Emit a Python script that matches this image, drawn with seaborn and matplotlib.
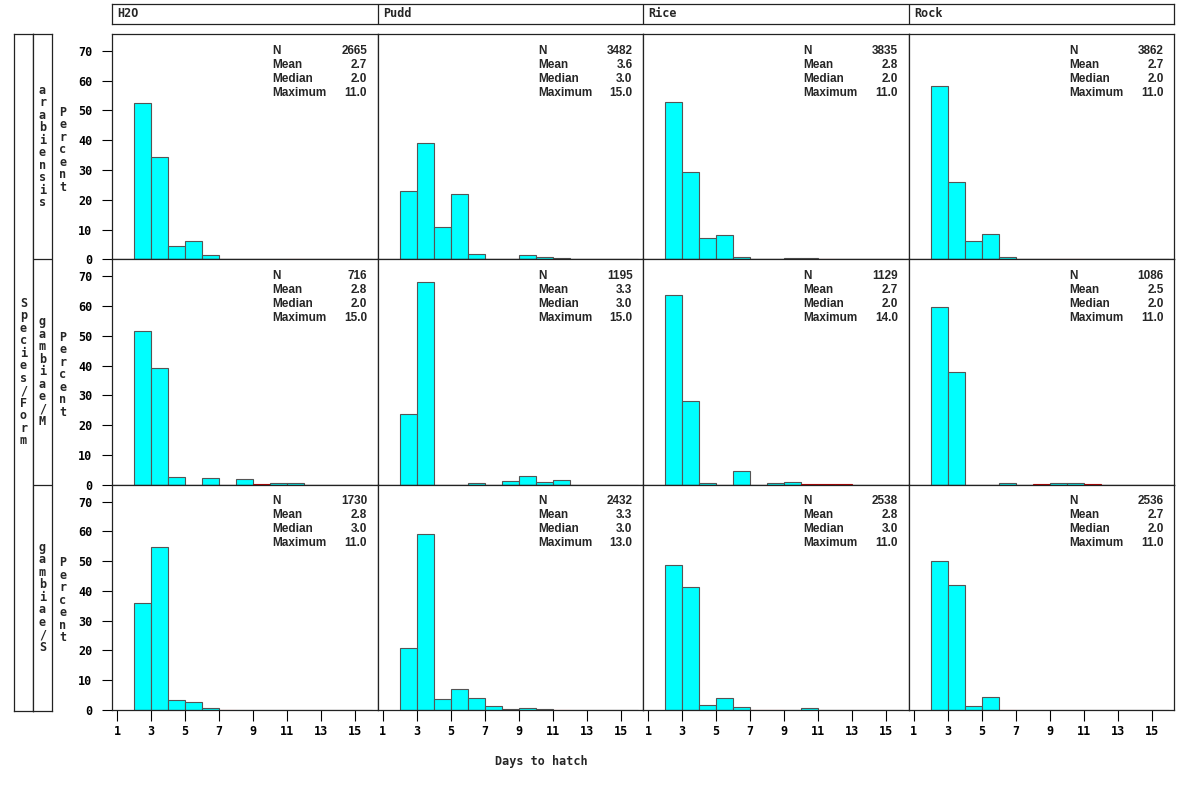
import numpy as np
import pandas as pd
import matplotlib
matplotlib.use("Agg")
import matplotlib.pyplot as plt
import seaborn as sns

days = list(range(2, 16))
sites = ['H2O', 'Pudd', 'Rice', 'Rock']
forms = ['arabiensis', 'gambiae/M', 'gambiae/S']

# percent hatching on each day (days 2..15)
arab_h2o = [52.5, 34.5, 4.5, 6.3, 1.6, 0, 0, 0, 0, 0.15, 0, 0, 0, 0]
arab_pudd = [22.9, 39.2, 11.0, 21.9, 1.7, 0, 0, 1.5, 0.9, 0.4, 0, 0, 0, 0]
arab_rice = [52.9, 29.5, 7.3, 8.2, 0.9, 0, 0, 0.4, 0.4, 0.15, 0, 0, 0, 0]
arab_rock = [58.1, 26.1, 6.1, 8.4, 0.8, 0, 0, 0.15, 0.15, 0, 0, 0, 0, 0]
gm_h2o = [51.7, 39.1, 2.7, 0, 2.2, 0, 1.9, 0.15, 0.5, 0.5, 0, 0, 0, 0]
gm_pudd = [23.6, 68.0, 0, 0, 0.5, 0, 1.3, 3.0, 0.8, 1.7, 0, 0, 0, 0]
gm_rice = [63.7, 28.2, 0.6, 0, 4.5, 0, 0.6, 0.9, 0.15, 0.15, 0.15, 0, 0, 0]
gm_rock = [59.6, 38.0, 0, 0, 0.7, 0, 0.15, 0.5, 0.5, 0.15, 0, 0, 0, 0]
gs_h2o = [36.0, 54.9, 3.4, 2.8, 0.6, 0.15, 0, 0, 0, 0, 0, 0, 0, 0]
gs_pudd = [20.8, 59.2, 3.7, 7.1, 4.0, 1.35, 0.3, 0.7, 0.3, 0.15, 0, 0, 0, 0]
gs_rice = [48.6, 41.4, 1.8, 4.0, 1.0, 0.15, 0.15, 0, 0.7, 0, 0, 0, 0, 0]
gs_rock = [49.9, 42.1, 1.35, 4.2, 0.15, 0, 0, 0, 0, 0, 0, 0, 0, 0]

# summary stats per panel (rows = forms, cols = sites)
n_vals = [['2665', '3482', '3835', '3862'],
          ['716', '1195', '1129', '1086'],
          ['1730', '2432', '2538', '2536']]
mean_vals = [['2.7', '3.6', '2.8', '2.7'],
             ['2.8', '3.3', '2.7', '2.5'],
             ['2.8', '3.3', '2.8', '2.7']]
median_vals = [['2.0', '3.0', '2.0', '2.0'],
               ['2.0', '3.0', '2.0', '2.0'],
               ['3.0', '3.0', '3.0', '2.0']]
max_vals = [['11.0', '15.0', '11.0', '11.0'],
            ['15.0', '15.0', '14.0', '11.0'],
            ['11.0', '13.0', '11.0', '11.0']]

pct = [[arab_h2o, arab_pudd, arab_rice, arab_rock],
       [gm_h2o, gm_pudd, gm_rice, gm_rock],
       [gs_h2o, gs_pudd, gs_rice, gs_rock]]

rows = []
for i, f in enumerate(forms):
    for j, s in enumerate(sites):
        for d, p in zip(days, pct[i][j]):
            rows.append({'form': f, 'site': s, 'day': d, 'pct': p})
df = pd.DataFrame(rows)

sns.set_style('white')
mono = 'DejaVu Sans Mono'
plt.rcParams['font.family'] = ['DejaVu Sans']

W, H = 1200, 795
fig = plt.figure(figsize=(12, 7.95), dpi=100)


def fx(px):
    return px / W


def fy(py):
    return 1 - py / H


col_left = [112, 377.5, 643, 908.5]
col_w = 265.5
row_top = [34, 259.3, 484.7]
row_h = 225.3
frame = '#222222'

for i, f in enumerate(forms):
    for j, s in enumerate(sites):
        ax = fig.add_axes([fx(col_left[j]), fy(row_top[i] + row_h), col_w / W, row_h / H])
        sub = df[(df.form == f) & (df.site == s)]
        sns.histplot(data=sub, x='day', weights='pct', binwidth=1, binrange=(2, 16),
                     color='#00ffff', edgecolor='#555555', linewidth=0.8,
                     alpha=1, ax=ax)
        for p in ax.patches:
            h = p.get_height()
            if 0 < h <= 0.2:
                p.set_edgecolor('#c00000')
        ax.set_xlim(0.7, 16.3)
        ax.set_ylim(0, 75.7)
        ax.set_xlabel('')
        ax.set_ylabel('')
        for sp in ax.spines.values():
            sp.set_visible(True)
            sp.set_color(frame)
            sp.set_linewidth(0.9)
        if j == 0:
            ax.set_yticks(range(0, 71, 10))
            ax.tick_params(axis='y', direction='out', length=7, width=0.8,
                           pad=7, left=True, colors='black')
            for t in ax.get_yticklabels():
                t.set_fontfamily(mono)
                t.set_fontsize(8.5)
                t.set_fontweight('bold')
        else:
            ax.set_yticks([])
        if i == 2:
            ax.set_xticks(range(1, 16, 2))
            ax.tick_params(axis='x', direction='out', length=8, width=0.8,
                           pad=3, bottom=True, colors='black')
            for t in ax.get_xticklabels():
                t.set_fontfamily(mono)
                t.set_fontsize(8.5)
                t.set_fontweight('bold')
        else:
            ax.set_xticks([])

        labels = ['N', 'Mean', 'Median', 'Maximum']
        values = [n_vals[i][j], mean_vals[i][j], median_vals[i][j], max_vals[i][j]]
        for k, (lab, val) in enumerate(zip(labels, values)):
            yy = 1 - (16.7 + 14 * k) / row_h
            ax.text(160.7 / col_w, yy, lab, transform=ax.transAxes, ha='left',
                    va='center', fontsize=8.5, family='Liberation Sans',
                    fontweight='bold')
            ax.text(255 / col_w, yy, val, transform=ax.transAxes, ha='right',
                    va='center', fontsize=8.5, family='Liberation Sans',
                    fontweight='bold')

        # "Percent" stacked label beside each row
        if j == 0:
            fig.text(fx(63), fy(row_top[i] + row_h / 2 + 3), '\n'.join('Percent'),
                     ha='center', va='center', family=mono, fontsize=8.5,
                     fontweight='bold', linespacing=0.95)

# column header strip
hx = fig.add_axes([fx(112), fy(23.5), (1174 - 112) / W, 19.5 / H])
hx.set_xlim(0, 4)
hx.set_ylim(0, 1)
hx.set_xticks([])
hx.set_yticks([])
for sp in hx.spines.values():
    sp.set_visible(True)
    sp.set_color(frame)
    sp.set_linewidth(0.9)
for j, s in enumerate(sites):
    if j > 0:
        hx.axvline(j, color=frame, lw=0.9)
    hx.text(j + 0.02, 0.5, s, ha='left', va='center', family=mono,
            fontsize=8.5, fontweight='bold')

# row label boxes on the left
ox = fig.add_axes([fx(14), fy(711), 19 / W, (711 - 34) / H])
ix = fig.add_axes([fx(33), fy(711), 19 / W, (711 - 34) / H])
for a in (ox, ix):
    a.set_xlim(0, 1)
    a.set_ylim(711, 34)
    a.set_xticks([])
    a.set_yticks([])
    for sp in a.spines.values():
        sp.set_visible(True)
        sp.set_color(frame)
        sp.set_linewidth(0.9)
ox.text(0.5, 372, '\n'.join('Species/Form'), ha='center', va='center',
        family=mono, fontsize=8.5, fontweight='bold', linespacing=0.95)
for i, f in enumerate(forms):
    if i > 0:
        ix.axhline(row_top[i], color=frame, lw=0.9)
    ix.text(0.5, row_top[i] + row_h / 2, '\n'.join(f), ha='center', va='center',
            family=mono, fontsize=8.5, fontweight='bold', linespacing=0.95)

fig.text(fx(541), fy(762), 'Days to hatch', ha='center', va='center',
         family=mono, fontsize=8.5, fontweight='bold')

plt.savefig('out.png', dpi=100)
